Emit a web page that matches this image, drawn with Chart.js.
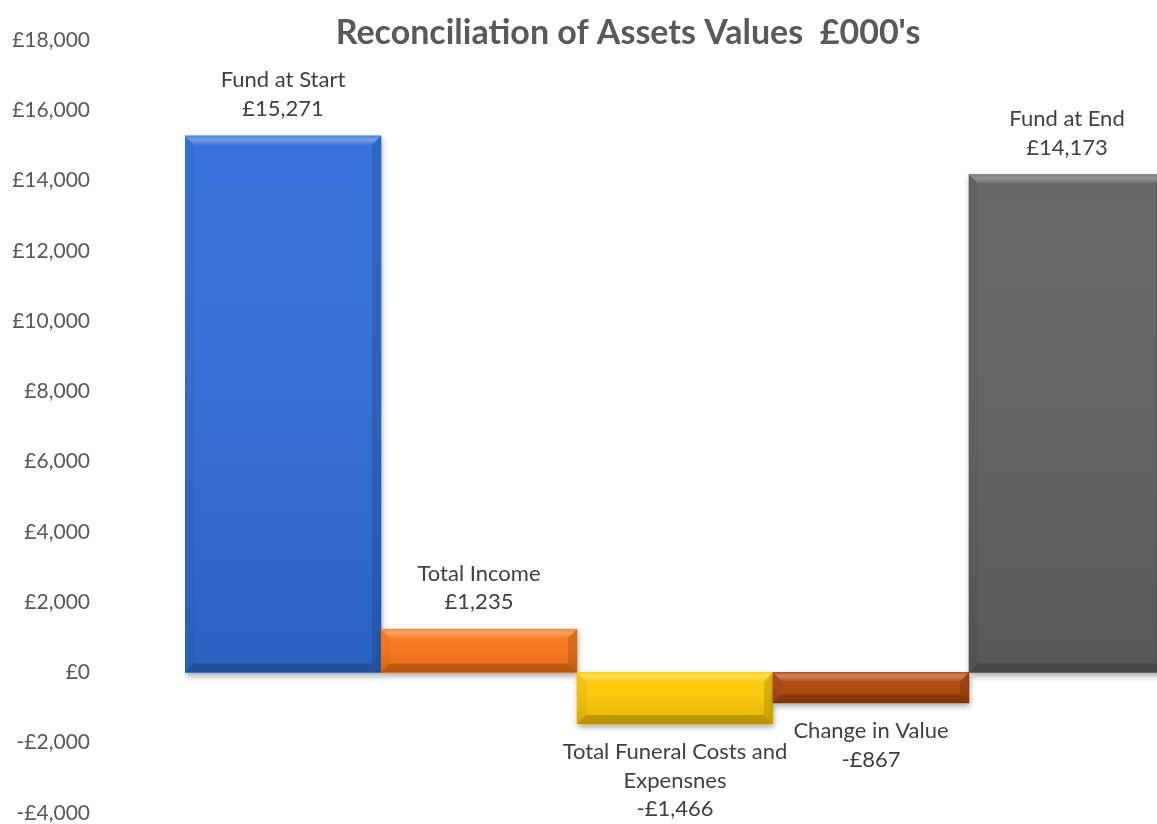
<!DOCTYPE html>
<html>
<head>
<meta charset="utf-8">
<script src="https://cdn.jsdelivr.net/npm/chart.js@4"></script>
<style>
  html, body { margin: 0; padding: 0; background: #fff; overflow: hidden; }
  #wrap { width: 1170px; height: 824px; }
</style>
</head>
<body>
<div id="wrap"><canvas id="assetChart" width="1170" height="824"></canvas></div>
<script>
// chart data
const categories = [['Fund at Start'], ['Total Income'], ['Total Funeral Costs and', 'Expensnes'], ['Change in Value'], ['Fund at End']];
const values = [15271, 1235, -1466, -867, 14173];
const barColors = ['#306ed9', '#fd7719', '#ffcb04', '#b1480c', '#626262'];
const yMin = -4000, yMax = 18000, yStep = 2000;
const chartTitle = "Reconciliation of Assets Values  £000's";

const fmt = v => (v < 0 ? '-£' : '£') + Math.abs(v).toLocaleString('en-GB');

// soft drop shadow under the bars
const shadowPlugin = {
    id: 'barShadow',
    beforeDatasetsDraw(chart) {
        const ctx = chart.ctx;
        ctx.save();
        ctx.shadowColor = 'rgba(0,0,0,0.35)';
        ctx.shadowBlur = 6;
        ctx.shadowOffsetX = 1;
        ctx.shadowOffsetY = 3;
    },
    afterDatasetsDraw(chart) {
        chart.ctx.restore();
    }
};

// bevel + soft gradient to mimic the Excel 3D look
const bevelPlugin = {
    id: 'bevel',
    afterDatasetsDraw(chart) {
        const ctx = chart.ctx;
        chart.getDatasetMeta(0).data.forEach(el => {
            const p = el.getProps(['x', 'y', 'base', 'width'], true);
            const l = p.x - p.width / 2, r = p.x + p.width / 2;
            const t = Math.min(p.y, p.base), b = Math.max(p.y, p.base);
            const bv = Math.min(9, (b - t) / 3);
            ctx.save();
            const g = ctx.createLinearGradient(0, t, 0, b);
            g.addColorStop(0, 'rgba(255,255,255,0.03)');
            g.addColorStop(1, 'rgba(0,0,0,0.12)');
            ctx.fillStyle = g;
            ctx.fillRect(l, t, r - l, b - t);
            const poly = (pts, c) => {
                ctx.beginPath();
                ctx.moveTo(pts[0][0], pts[0][1]);
                pts.slice(1).forEach(q => ctx.lineTo(q[0], q[1]));
                ctx.closePath();
                ctx.fillStyle = c;
                ctx.fill();
            };
            const gt = ctx.createLinearGradient(0, t, 0, t + bv);
            gt.addColorStop(0, 'rgba(255,255,255,0.12)');
            gt.addColorStop(0.4, 'rgba(255,255,255,0.30)');
            gt.addColorStop(1, 'rgba(255,255,255,0.04)');
            poly([[l, t], [r, t], [r - bv, t + bv], [l + bv, t + bv]], gt);
            poly([[l, b], [r, b], [r - bv, b - bv], [l + bv, b - bv]], 'rgba(0,0,0,0.18)');
            poly([[l, t], [l + bv, t + bv], [l + bv, b - bv], [l, b]], 'rgba(0,0,0,0.04)');
            poly([[r, t], [r - bv, t + bv], [r - bv, b - bv], [r, b]], 'rgba(0,0,0,0.12)');
            ctx.restore();
        });
    }
};

// category name + value labels
const labelPlugin = {
    id: 'barLabels',
    afterDatasetsDraw(chart) {
        const ctx = chart.ctx;
        ctx.save();
        ctx.font = '22px Lato';
        ctx.fillStyle = '#404040';
        ctx.textAlign = 'center';
        ctx.textBaseline = 'middle';
        chart.getDatasetMeta(0).data.forEach((el, i) => {
            const p = el.getProps(['x', 'y', 'base'], true);
            const lines = categories[i].concat([fmt(values[i])]);
            const lh = 28.5;
            if (values[i] >= 0) {
                const top = Math.min(p.y, p.base);
                lines.slice().reverse().forEach((s, k) => ctx.fillText(s, p.x, top - 27 - k * lh));
            } else {
                const bot = Math.max(p.y, p.base);
                lines.forEach((s, k) => ctx.fillText(s, p.x, bot + 28 + k * lh));
            }
        });
        ctx.restore();
    }
};

const titlePlugin = {
    id: 'topTitle',
    afterDraw(chart) {
        const ctx = chart.ctx;
        ctx.save();
        ctx.font = 'bold 34px Lato';
        ctx.fillStyle = '#595959';
        ctx.textAlign = 'center';
        ctx.textBaseline = 'middle';
        ctx.fillText(chartTitle, 628, 33);
        ctx.restore();
    }
};

const ctx = document.getElementById('assetChart').getContext('2d');
new Chart(ctx, {
    type: 'bar',
    data: {
        labels: categories.map(c => c.join(' ')),
        datasets: [{
            label: 'Value',
            data: values,
            backgroundColor: barColors,
            borderWidth: 0,
            barPercentage: 1,
            categoryPercentage: 1
        }]
    },
    options: {
        responsive: false,
        animation: false,
        devicePixelRatio: 1,
        layout: { padding: { top: 40, bottom: 11, left: 0, right: 5 } },
        scales: {
            x: { display: false },
            y: {
                min: yMin,
                max: yMax,
                grid: { display: false, drawTicks: false },
                border: { display: false },
                afterFit(scale) {
                    scale.width = 185;
                    scale.paddingTop = 0;
                    scale.paddingBottom = 0;
                },
                ticks: {
                    stepSize: yStep,
                    padding: 95,
                    color: '#595959',
                    font: { family: 'Lato', size: 21 },
                    callback: v => fmt(v)
                }
            }
        },
        plugins: {
            legend: { display: false },
            tooltip: { enabled: false }
        }
    },
    plugins: [shadowPlugin, bevelPlugin, labelPlugin, titlePlugin]
});
</script>
</body>
</html>
